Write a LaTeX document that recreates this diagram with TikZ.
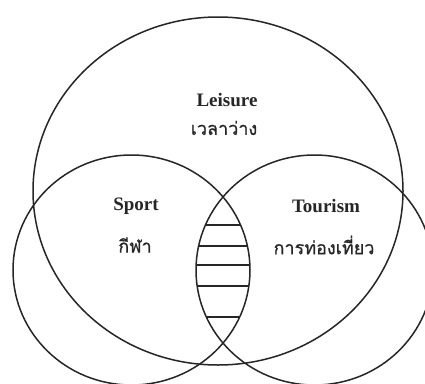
\documentclass[tikz,border=0pt]{standalone}
\usepackage{fontspec}
\setmainfont{Liberation Serif}
\newfontfamily\thaifont[Script=Thai,FakeBold=0.7]{Loma}
\definecolor{ink}{HTML}{262626}
\begin{document}
\begin{tikzpicture}[x=1pt,y=-1pt,
  ring/.style={draw=ink,line width=1.5pt},
  hatch/.style={draw=ink,line width=1.8pt},
  entxt/.style={font=\fontsize{19}{21}\selectfont\bfseries,text=ink,inner sep=0pt},
  thtxt/.style={font=\thaifont\fontsize{18}{20}\selectfont,text=ink,inner sep=0pt}]
\clip (0,0) rectangle (425,383);
\fill[white] (0,0) rectangle (425,383);
% circles
\draw[ring] (218,191) ellipse [x radius=185, y radius=174];
\draw[ring] (131.5,270) ellipse [x radius=118.5, y radius=115];
\draw[ring] (314.5,270) ellipse [x radius=118.5, y radius=115];
% hatch lines in the lens
\foreach \yy in {225,246,265,286,317} {
  \pgfmathsetmacro\ww{118.5*sqrt(1-((\yy-270)/115)^2)}
  \pgfmathsetmacro\xl{314.5-\ww}
  \pgfmathsetmacro\xr{131.5+\ww}
  \draw[hatch] (\xl,\yy) -- (\xr,\yy);
}
% labels
\node[entxt] (leis) at (227,100) {Leisure};
\node[thtxt] (leisth) at (224,128) {เวลาว่าง};
\node[entxt] (sport) at (136,206) {Sport};
\node[thtxt] (sportth) at (135,245) {กีฬา};
\node[entxt] (tour) at (326,206) {Tourism};
\node[thtxt] (tourth) at (324,245) {การท่องเที่ยว};
\end{tikzpicture}
\end{document}
